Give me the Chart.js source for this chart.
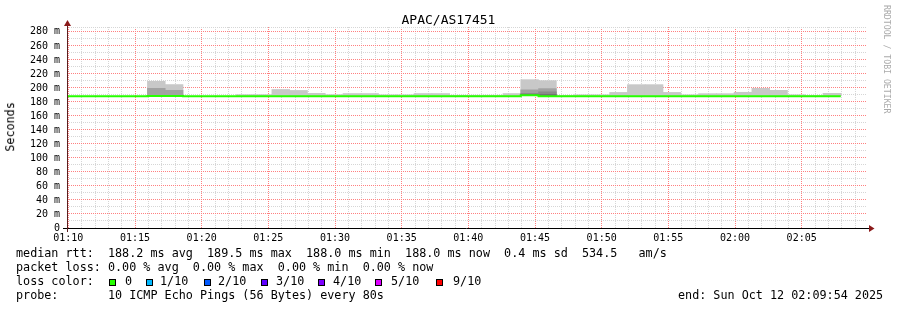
<!DOCTYPE html>
<html>
<head>
<meta charset="utf-8">
<script src="https://cdn.jsdelivr.net/npm/chart.js@4"></script>
<style>
  body { margin: 0; background: #fff; }
  #wrap { position: relative; width: 897px; height: 310px; font-family: "DejaVu Sans Mono", monospace; color: #000; background: #fff; }
  #wrap canvas { position: absolute; left: 0; top: 0; }
  .t { position: absolute; white-space: pre; line-height: 1; }
  .leg { font-size: 11.76px; }
  .box { position: absolute; width: 5px; height: 5px; border: 1px solid #000; }
</style>
</head>
<body>
<div id="wrap">
  <canvas id="myChart" width="897" height="310"></canvas>
  <div class="t" style="left:0;width:897px;text-align:center;top:13px;font-size:13px">APAC/AS17451</div>
  <div class="t leg" style="left:-14px;top:121px;width:50px;text-align:center;transform:rotate(-90deg)">Seconds</div>
  <div class="t" style="left:883px;top:5px;font-size:8.2px;color:#aaa;writing-mode:vertical-rl">RRDTOOL / TOBI OETIKER</div>
  <div class="t leg" style="left:16px;top:248px">median rtt:  188.2 ms avg  189.5 ms max  188.0 ms min  188.0 ms now  0.4 ms sd  534.5   am/s</div>
  <div class="t leg" style="left:16px;top:262px">packet loss: 0.00 % avg  0.00 % max  0.00 % min  0.00 % now</div>
  <div class="t leg" style="left:16px;top:276px">loss color:</div>
  <div id="lossLegend"></div>
  <div class="t leg" style="left:16px;top:290px">probe:       10 ICMP Echo Pings (56 Bytes) every 80s</div>
  <div class="t leg" style="left:678px;top:290px">end: Sun Oct 12 02:09:54 2025</div>
</div>
<script>
// start of each 80s step
const stepStart = [
  "01:09:16", "01:10:36", "01:11:56", "01:13:16", "01:14:36",
  "01:15:56", "01:17:16", "01:18:36", "01:19:56", "01:21:16",
  "01:22:36", "01:23:56", "01:25:16", "01:26:36", "01:27:56",
  "01:29:16", "01:30:36", "01:31:56", "01:33:16", "01:34:36",
  "01:35:56", "01:37:16", "01:38:36", "01:39:56", "01:41:16",
  "01:42:36", "01:43:56", "01:45:16", "01:46:36", "01:47:56",
  "01:49:16", "01:50:36", "01:51:56", "01:53:16", "01:54:36",
  "01:55:56", "01:57:16", "01:58:36", "01:59:56", "02:01:16",
  "02:02:36", "02:03:56", "02:05:16", "02:06:36"
];
const stepEnd = "02:07:56";

// median rtt (ms)
const medianRtt = [
  188.2, 188.2, 188.2, 188.2, 188.2,
  188.3, 188.3, 188.2, 188.2, 188.2,
  188.2, 188.2, 188.2, 188.2, 188.2,
  188.2, 188.2, 188.2, 188.2, 188.2,
  188.2, 188.2, 188.2, 188.2, 188.2,
  188.2, 189.5, 188.0, 188.2, 188.2,
  188.2, 188.2, 188.2, 188.2, 188.2,
  188.2, 188.2, 188.2, 188.2, 188.2,
  188.2, 188.2, 188.1, 188.0
];

// smoke: max ping per step (light grey)
const smokeMax = [
  null, null, null, null, null,
  209.5, 204.8, null, null, null,
  190.5, 190.5, 197.8, 196.4, 192.3,
  190.5, 192.0, 192.0, 190.3, 190.3,
  192.0, 192.0, 189.6, 189.6, 189.6,
  192.0, 211.8, 210.4, 189.2, 190.3,
  190.3, 193.6, 204.7, 204.7, 193.6,
  190.3, 191.8, 191.8, 193.8, 199.4,
  196.6, 190.3, 189.2, 192.3
];
// denser smoke layers
const smokeMid = [
  null, null, null, null, null,
  199.4, 196.6, null, null, null,
  null, null, null, null, null,
  null, null, null, null, null,
  null, null, null, null, null,
  null, 197.3, 199.0, null, null,
  null, null, null, null, null,
  null, null, null, null, null,
  null, null, null, null
];
const smokeDark = [
  null, null, null, null, null,
  null, null, null, null, null,
  null, null, null, null, null,
  null, null, null, null, null,
  null, null, null, null, null,
  null, 192.3, 194.5, null, null,
  null, null, null, null, null,
  null, null, null, null, null,
  null, null, null, null
];
const smokeDarkest = [
  null, null, null, null, null,
  null, null, null, null, null,
  null, null, null, null, null,
  null, null, null, null, null,
  null, null, null, null, null,
  null, 190.8, 190.5, null, null,
  null, null, null, null, null,
  null, null, null, null, null,
  null, null, null, null
];

const xTickLabels = ["01:10", "01:15", "01:20", "01:25", "01:30", "01:35",
  "01:40", "01:45", "01:50", "01:55", "02:00", "02:05"];
const graphStart = "01:09:54";
const graphEnd = "02:09:54";
const yTop = 287;

const lossLabels = ["0", "1/10", "2/10", "3/10", "4/10", "5/10", "9/10"];
const lossColors = ["#26ff00", "#00b8ff", "#0059ff", "#5e00ff", "#7e00ff", "#dd00ff", "#ff0000"];

// seconds relative to 01:10:00
function secs(hms) {
  const p = hms.split(":").map(Number);
  return p[0] * 3600 + p[1] * 60 + (p[2] || 0) - (3600 + 600);
}
function stepMid(i) {
  const a = secs(stepStart[i]);
  const b = i + 1 < stepStart.length ? secs(stepStart[i + 1]) : secs(stepEnd);
  return (a + b) / 2;
}
function band(tops) {
  return tops.map(function (v, i) {
    return v == null ? null : { x: stepMid(i), y: [medianRtt[i], v] };
  }).filter(Boolean);
}

// loss colour legend
const legBox = [109, 146, 204, 261, 318, 375, 436];
const legTxt = [125, 160, 218, 276, 333, 391, 453];
const lossLegend = document.getElementById("lossLegend");
lossLabels.forEach(function (lab, i) {
  const b = document.createElement("div");
  b.className = "box";
  b.style.left = legBox[i] + "px";
  b.style.top = "279px";
  b.style.background = lossColors[i];
  lossLegend.appendChild(b);
  const t = document.createElement("div");
  t.className = "t leg";
  t.style.left = legTxt[i] + "px";
  t.style.top = "276px";
  t.textContent = lab;
  lossLegend.appendChild(t);
});

const major = "#ff8080";
const minor = "#d6d6d6";

const rrdAxes = {
  id: "rrdAxes",
  afterDatasetsDraw(chart) {
    const { ctx, chartArea: a } = chart;
    ctx.save();
    ctx.lineWidth = 1;
    ctx.strokeStyle = "#000";
    ctx.beginPath();
    ctx.moveTo(a.left - 4, a.bottom + 0.5);
    ctx.lineTo(a.right + 3, a.bottom + 0.5);
    ctx.stroke();
    ctx.strokeStyle = "#5a2020";
    ctx.beginPath();
    ctx.moveTo(a.left + 0.5, a.bottom + 4);
    ctx.lineTo(a.left + 0.5, a.top - 2);
    ctx.stroke();
    ctx.fillStyle = "#8b1a1a";
    ctx.beginPath();
    ctx.moveTo(a.right + 7.5, a.bottom + 0.5);
    ctx.lineTo(a.right + 2, a.bottom - 3);
    ctx.lineTo(a.right + 2, a.bottom + 4);
    ctx.closePath();
    ctx.fill();
    ctx.beginPath();
    ctx.moveTo(a.left + 0.5, a.top - 7);
    ctx.lineTo(a.left - 3, a.top - 1);
    ctx.lineTo(a.left + 4, a.top - 1);
    ctx.closePath();
    ctx.fill();
    ctx.restore();
  }
};

Chart.defaults.font.family = "'DejaVu Sans Mono', monospace";
Chart.defaults.font.size = 10;
Chart.defaults.color = "#000";

const ctx = document.getElementById("myChart");
new Chart(ctx, {
  type: "bar",
  data: {
    datasets: [
      {
        type: "line",
        label: "median",
        data: stepStart.map(function (t, i) { return { x: secs(t), y: medianRtt[i] }; })
          .concat([{ x: secs(stepEnd), y: medianRtt[medianRtt.length - 1] }]),
        stepped: true,
        borderColor: "#26ff00",
        borderWidth: 2,
        pointRadius: 0,
        xAxisID: "x",
        order: 0
      },
      { label: "darkest", data: band(smokeDarkest), backgroundColor: "#6c6c6c", order: 1 },
      { label: "dark", data: band(smokeDark), backgroundColor: "#8a8a8a", order: 2 },
      { label: "mid", data: band(smokeMid), backgroundColor: "#a2a2a2", order: 3 },
      { label: "max", data: band(smokeMax), backgroundColor: "#c8c8c8", order: 4 }
    ].map(function (d) {
      if (d.type !== "line") {
        d.grouped = false;
        d.barPercentage = 1;
        d.categoryPercentage = 1;
        d.borderWidth = 0;
        d.xAxisID = "x";
      }
      return d;
    })
  },
  options: {
    responsive: false,
    animation: false,
    layout: { padding: { left: 0, top: 27, right: 30, bottom: 0 } },
    plugins: { legend: { display: false }, tooltip: { enabled: false } },
    scales: {
      x: {
        type: "linear",
        position: "bottom",
        offset: false,
        min: secs(graphStart),
        max: secs(graphEnd),
        afterBuildTicks: function (scale) {
          scale.ticks = xTickLabels.map(function (l) { return { value: secs(l) }; });
        },
        afterFit: function (scale) { scale.height = 82; },
        ticks: {
          autoSkip: false,
          maxRotation: 0,
          padding: 4,
          callback: function (v, i) { return xTickLabels[i]; }
        },
        grid: { color: major, drawTicks: false, offset: false },
        border: { display: false, dash: [1, 1] }
      },
      xMinor: {
        type: "linear",
        position: "bottom",
        offset: false,
        min: secs(graphStart),
        max: secs(graphEnd),
        afterBuildTicks: function (scale) {
          const t = [];
          for (let s = 60; s < scale.max; s += 60) {
            if (s % 300 !== 0) t.push({ value: s });
          }
          scale.ticks = t;
        },
        afterFit: function (scale) { scale.height = 0; },
        ticks: { display: false },
        grid: { color: minor, drawTicks: false, offset: false },
        border: { display: false, dash: [1, 1] }
      },
      y: {
        type: "linear",
        min: 0,
        max: yTop,
        afterFit: function (scale) { scale.width = 67; },
        afterBuildTicks: function (scale) {
          const t = [];
          for (let v = 0; v < yTop; v += 10) t.push({ value: v });
          t.push({ value: yTop });
          scale.ticks = t;
        },
        ticks: {
          autoSkip: false,
          padding: 7,
          callback: function (v) {
            if (v === 0) return "0";
            return v % 20 === 0 ? v + " m" : "";
          }
        },
        grid: {
          drawTicks: false,
          color: function (c) { return c.tick && c.tick.value % 20 === 0 ? major : minor; }
        },
        border: { display: false, dash: [1, 1] }
      }
    }
  },
  plugins: [rrdAxes]
});
</script>
</body>
</html>
